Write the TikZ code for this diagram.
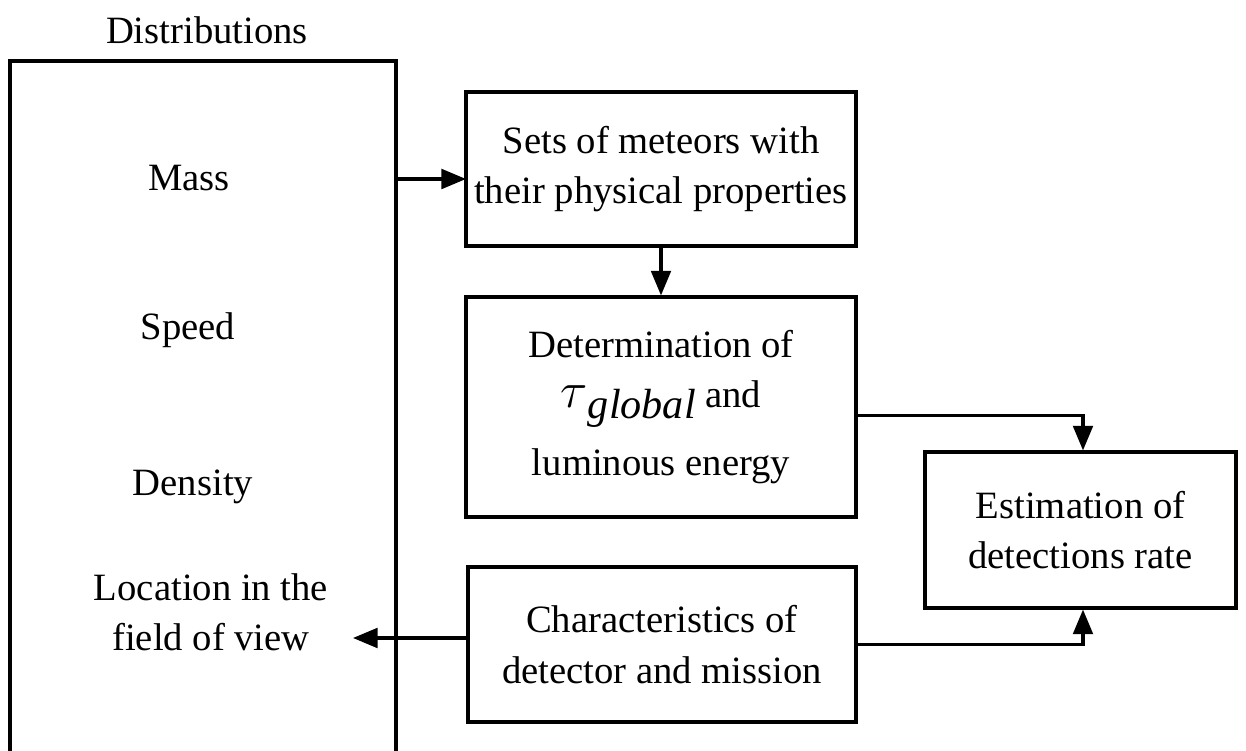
\documentclass[tikz,border=0pt]{standalone}
\usepackage{fontspec}
\setmainfont{Liberation Serif}
\usetikzlibrary{arrows.meta}

\begin{document}
\begin{tikzpicture}[
    font=\fontsize{11}{14.3}\selectfont,
    block/.style={draw, line width=0.9pt, align=center, inner sep=0pt},
    link/.style={line width=0.9pt, -{Triangle[length=7pt, width=5.6pt]}}
  ]
  \useasboundingbox (0,0) rectangle (12.46,-7.51);

  % Distributions box (runs off the bottom)
  \node[block, minimum width=3.86cm, minimum height=7.1cm] (dist) at (2.03,-4.16) {};
  \node (title) at (2.07,-0.30) {Distributions};
  \node (mass) at (1.89,-1.78) {Mass};
  \node (speed) at (1.88,-3.30) {Speed};
  \node (density) at (1.93,-4.87) {Density};
  \node[align=center] (loc) at (2.11,-6.12) {Location in the\\field of view};

  % Right hand blocks
  \node[block, minimum width=3.90cm, minimum height=1.54cm] (sets) at (6.61,-1.69)
    {Sets of meteors with\\their physical properties};
  \node[block, minimum width=3.90cm, minimum height=2.20cm] (lum) at (6.61,-4.07)
    {Determination of\\[0pt]{\Large$\tau$}\raisebox{-0.6ex}{\itshape\large global}\ and\\[5pt]luminous energy};
  \node[block, minimum width=3.11cm, minimum height=1.56cm] (rate) at (10.805,-5.30)
    {Estimation of\\detections rate};
  \node[block, minimum width=3.88cm, minimum height=1.55cm] (det) at (6.62,-6.445)
    {Characteristics of\\detector and mission};

  % Connectors
  \coordinate (massend) at (4.66,-1.79);
  \coordinate (locend) at (3.53,-6.38);
  \draw[link] (dist.east |- massend) -- (massend);
  \draw[link] (sets.south) -- (sets.south |- lum.north);
  \draw[link] ([yshift=-0.085cm]lum.east) -| ([xshift=0.025cm]rate.north);
  \draw[link] (det.east) -| ([xshift=0.025cm]rate.south);
  \draw[link] (det.west |- locend) -- (locend);

\end{tikzpicture}
\end{document}
